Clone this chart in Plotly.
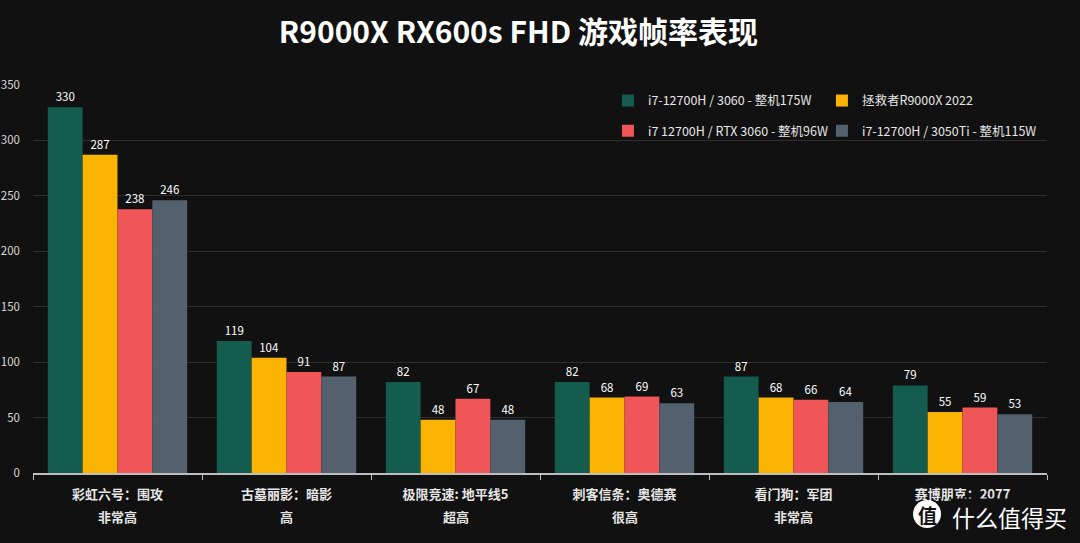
import plotly.graph_objects as go

games = ["彩虹六号：围攻", "古墓丽影：暗影", "极限竞速: 地平线5", "刺客信条：奥德赛", "看门狗：军团", "赛博朋克：2077"]
presets = ["非常高", "高", "超高", "很高", "非常高", "高"]
series_names = ["i7-12700H / 3060 - 整机175W", "拯救者R9000X 2022",
                "i7 12700H / RTX 3060 - 整机96W", "i7-12700H / 3050Ti - 整机115W"]
s1 = [330, 119, 82, 82, 87, 79]
s2 = [287, 104, 48, 68, 68, 55]
s3 = [238, 91, 67, 69, 66, 59]
s4 = [246, 87, 48, 63, 64, 53]
colors = ["#135C4E", "#F9B300", "#F05558", "#52616D"]
legend_ids = ["legend", "legend", "legend2", "legend2"]
y_ticks = [0, 50, 100, 150, 200, 250, 300, 350]

FONT = "Noto Sans CJK SC"
fig = go.Figure()
for name, vals, c, lg in zip(series_names, [s1, s2, s3, s4], colors, legend_ids):
    fig.add_trace(go.Bar(
        x=games, y=vals, name=name, legend=lg,
        marker=dict(color=c, line=dict(width=0)),
        text=vals, textposition="outside", cliponaxis=False,
        textfont=dict(color="#ffffff", size=11.5, family=FONT),
    ))

for g, p in zip(games, presets):
    fig.add_annotation(x=g, y=0, xref="x", yref="paper", text="<b>" + p + "</b>", showarrow=False,
                       yshift=-55, font=dict(color="#e6e6e6", size=13, family=FONT))

legend_common = dict(orientation="h", x=0.567, xanchor="left", yanchor="middle",
                     entrywidth=169, entrywidthmode="pixels", bgcolor="rgba(0,0,0,0)",
                     font=dict(size=12.5, color="#e6e6e6", family=FONT), itemclick=False)

fig.update_layout(
    width=1080, height=543,
    paper_bgcolor="#111111", plot_bgcolor="#111111",
    margin=dict(l=33, r=33, t=85, b=70),
    barmode="group", bargap=0.175, bargroupgap=0,
    font=dict(family=FONT, color="#e6e6e6"),
    title=dict(text="<b>R9000X RX600s FHD 游戏帧率表现</b>", x=0.48, xanchor="center",
               y=0.94, yanchor="middle", font=dict(size=30, color="#ffffff", family=FONT)),
    legend=dict(y=0.959, **legend_common),
    legend2=dict(y=0.881, **legend_common),
    xaxis=dict(showgrid=False, showline=True, linecolor="#bdbdbd", linewidth=1.5,
               ticks="outside", tickson="boundaries", ticklen=5, tickcolor="#bdbdbd",
               ticklabelstandoff=9, automargin=False,
               tickfont=dict(size=13, color="#e6e6e6", family=FONT),
               tickvals=games, ticktext=["<b>" + g + "</b>" for g in games]),
    yaxis=dict(range=[0, 350], tickvals=y_ticks, showgrid=True, gridcolor="#2e2e2e",
               gridwidth=1, zeroline=False, showline=False, ticklabelstandoff=12,
               automargin=False,
               tickfont=dict(size=11.5, color="#d9d9d9", family=FONT)),
    showlegend=True,
)

# site logo bottom-right
fig.add_annotation(xref="paper", yref="paper", x=0.9043, y=-0.1134, xanchor="left",
                   yanchor="middle", text="什么值得买", showarrow=False, bgcolor="#111111",
                   font=dict(size=23, color="#ffffff", family=FONT))
fig.add_shape(type="circle", xref="paper", yref="paper", layer="above",
              x0=0.8817 - 0.0138, x1=0.8817 + 0.0138,
              y0=-0.1057 - 0.0361, y1=-0.1057 + 0.0361,
              fillcolor="#ffffff", line=dict(width=0))
fig.add_annotation(xref="paper", yref="paper", x=0.8817, y=-0.1057, text="<b>值</b>",
                   yanchor="middle", xanchor="center", showarrow=False,
                   font=dict(size=19, color="#111111", family=FONT))

fig.write_html("out.html", config={"displayModeBar": False},
               post_script="document.body.style.margin='0';")
